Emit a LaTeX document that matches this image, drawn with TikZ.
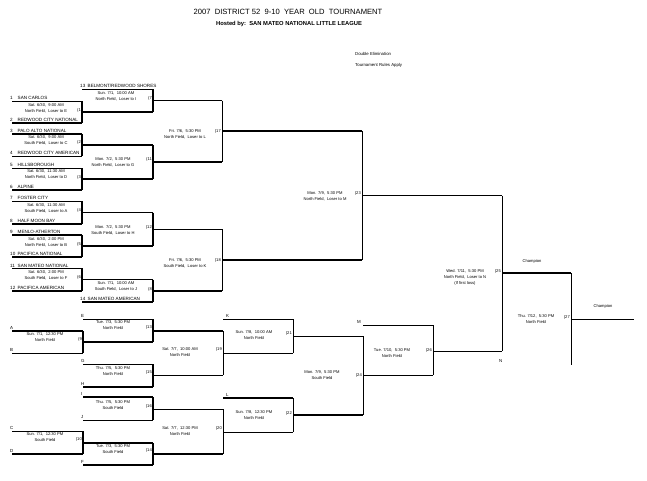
\documentclass[tikz,border=0pt]{standalone}
\usepackage{fontspec}
\setmainfont{Liberation Sans}
\usetikzlibrary{positioning}

\begin{document}
\begin{tikzpicture}[x=1pt, y=-1pt,
    thn/.style={line width=0.7pt},
    thk/.style={line width=1.6pt},
    team/.style={anchor=west, inner sep=0pt, font=\fontsize{4.6}{5}\selectfont},
    slot/.style={anchor=west, inner sep=0pt, font=\fontsize{4.4}{5}\selectfont},
    info/.style={align=center, inner sep=0pt, font=\fontsize{4.1}{6}\selectfont},
    gnum/.style={anchor=east, inner sep=0pt, font=\fontsize{4.1}{5}\selectfont},
    note/.style={anchor=west, inner sep=0pt, font=\fontsize{4.3}{5}\selectfont}
  ]
  \useasboundingbox (0,0) rectangle (647,480);

  \node (title) at (288,12) {\fontsize{7.6}{9}\selectfont 2007\ \ DISTRICT 52\ \ 9-10\ \ YEAR\ \ OLD\ \ TOURNAMENT};
  \node (host) at (289,24) {\fontsize{5.8}{7}\selectfont\bfseries Hosted by:\ \ SAN MATEO NATIONAL LITTLE LEAGUE};
  \node[note] (elim) at (355,54) {Double Elimination};
  \node[note] (rules) at (355,65) {Tournament Rules Apply};

  % winners bracket
  \foreach \a/\b/\y/\w in {12/82/101/thn, 12/82/123/thk, 12/82/134/thk, 12/82/156/thn,
      12/82/168/thn, 12/82/190/thk, 12/82/201/thn, 12/82/224/thk, 12/82/235/thk,
      12/82/257/thk, 12/82/268/thn, 12/82/291/thk,
      82/153/89/thn, 82/153/112/thk, 82/153/145/thk, 82/153/179/thk, 82/153/212.5/thn,
      82/153/246/thk, 82/153/279.5/thn, 82/153/302/thk,
      153/222/100.5/thk, 153/222/162/thk, 153/222/229/thn, 153/222/291/thk,
      222/362/131/thk, 222/362/260/thk, 362/502/195.5/thn, 502/571/273/thk, 571/634/319/thn}
    \draw[\w] (\a,\y) -- (\b,\y);
  \foreach \x/\p/\q/\w in {82/101/123/thk, 82/134/156/thk, 82/168/190/thk, 82/201/224/thk,
      82/235/257/thk, 82/268/291/thk, 153/89/112/thk, 153/145/179/thk, 153/212.5/246/thk,
      153/279.5/302/thk, 222/100.5/162/thn, 222/229/291/thn, 362/131/260/thn,
      502/195.5/351/thn, 571/273/365/thn}
    \draw[\w] (\x,\p) -- (\x,\q);

  % losers bracket
  \foreach \a/\b/\y/\w in {12/83/331/thk, 12/83/353/thn, 83/153/319/thn, 83/153/342/thk,
      83/153/364/thn, 83/153/387/thk, 83/153/397/thk, 83/153/420/thn, 12/83/431/thn,
      12/83/454/thk, 83/153/443/thk, 83/153/465/thk,
      153/223/331/thk, 153/223/375/thn, 153/223/409/thn, 153/223/454/thk,
      223/293/319/thn, 223/293/353/thn, 223/293/398/thk, 223/293/432/thn,
      293/363/336/thn, 293/363/415/thk, 363/433/325/thn, 363/433/375/thn, 433/502/351/thn}
    \draw[\w] (\a,\y) -- (\b,\y);
  \foreach \x/\p/\q/\w in {83/331/353/thk, 83/431/454/thk, 153/319/342/thk, 153/364/387/thk,
      153/397/420/thk, 153/443/465/thk, 223/331/375/thn, 223/409/454/thn,
      293/319/353/thn, 293/398/432/thn, 363/336/415/thn, 433/325/375/thn}
    \draw[\w] (\x,\p) -- (\x,\q);

  \foreach \n/\t/\y in {1/SAN CARLOS/98, 2/REDWOOD CITY NATIONAL/119.5, 3/PALO ALTO NATIONAL/131,
      4/REDWOOD CITY AMERICAN/153, 5/HILLSBOROUGH/165, 6/ALPINE/187, 7/FOSTER CITY/198,
      8/HALF MOON BAY/220.5, 9/MENLO-ATHERTON/232, 10/PACIFICA NATIONAL/254,
      11/SAN MATEO NATIONAL/265.5, 12/PACIFICA AMERICAN/288}
    \node[team] (t\n) at (10,\y) {\makebox[7.5pt][l]{\n}\t};
  \node[team] (t13) at (80,86) {\makebox[7.5pt][l]{13}BELMONT/REDWOOD SHORES};
  \node[team] (t14) at (80,299) {\makebox[7.5pt][l]{14}SAN MATEO AMERICAN};

  \foreach \s/\x/\y in {A/10/328, B/10/349.5, C/10/428, D/10/450.5, E/81/316, F/81/462,
      G/81/361, H/81/383.5, I/81/394, J/81/416.5, K/226/316, L/226/395, M/357/322, N/499/361}
    \node[slot] (s\s) at (\x,\y) {\s};

  \node[info] (g1) at (46,108) {Sat. 6/30,\ \ 9:00 AM\\North Field,\ \ Loser to E};
  \node[info] (g2) at (46,140.5) {Sat. 6/30,\ \ 9:00 AM\\South Field,\ \ Loser to C};
  \node[info] (g3) at (46,174.5) {Sat. 6/30,\ \ 11:30 AM\\North Field,\ \ Loser to D};
  \node[info] (g4) at (46,208) {Sat. 6/30,\ \ 11:30 AM\\South Field,\ \ Loser to A};
  \node[info] (g5) at (46,242) {Sat. 6/30,\ \ 2:00 PM\\North Field,\ \ Loser to B};
  \node[info] (g6) at (46,275) {Sat. 6/30,\ \ 2:00 PM\\South Field,\ \ Loser to F};
  \node[info] (g7) at (116,96) {Sun. 7/1,\ \ 10:00 AM\\North Field,\ \ Loser to I};
  \node[info] (g11) at (113,162) {Mon. 7/2,\ \ 5:30 PM\\North Field,\ \ Loser to G};
  \node[info] (g12) at (113,230) {Mon. 7/2,\ \ 5:30 PM\\South Field,\ \ Loser to H};
  \node[info] (g8) at (116,286) {Sun. 7/1,\ \ 10:00 AM\\South Field,\ \ Loser to J};
  \node[info] (g17) at (185,134) {Fri. 7/6,\ \ 5:30 PM\\North Field,\ \ Loser to L};
  \node[info] (g18) at (185,263) {Fri. 7/6,\ \ 5:30 PM\\South Field,\ \ Loser to K};
  \node[info] (g23) at (325,196) {Mon. 7/9,\ \ 5:30 PM\\North Field,\ \ Loser to M};
  \node[info] (g25) at (465,277) {Wed. 7/11,\ \ 5:30 PM\\North Field,\ \ Loser to N\\(If first loss)};
  \node[info] (g27) at (536,319.5) {Thu. 7/12,\ \ 5:30 PM\\North Field};
  \node[info] (g9) at (45,337.5) {Sun. 7/1,\ \ 12:30 PM\\North Field};
  \node[info] (g10) at (45,437.5) {Sun. 7/1,\ \ 12:30 PM\\South Field};
  \node[info] (g13) at (113,325.5) {Tue. 7/3,\ \ 5:30 PM\\North Field};
  \node[info] (g15) at (113,371) {Thu. 7/5,\ \ 5:30 PM\\North Field};
  \node[info] (g16) at (113,405) {Thu. 7/5,\ \ 5:30 PM\\South Field};
  \node[info] (g14) at (113,449.5) {Tue. 7/3,\ \ 5:30 PM\\South Field};
  \node[info] (g19) at (180,352) {Sat. 7/7,\ \ 10:00 AM\\North Field};
  \node[info] (g20) at (180,431) {Sat. 7/7,\ \ 12:30 PM\\North Field};
  \node[info] (g21) at (254,335.5) {Sun. 7/8,\ \ 10:00 AM\\North Field};
  \node[info] (g22) at (254,415.5) {Sun. 7/8,\ \ 12:30 PM\\North Field};
  \node[info] (g24) at (322,375.5) {Mon. 7/9,\ \ 5:30 PM\\South Field};
  \node[info] (g26) at (392,353) {Tue. 7/10,\ \ 5:30 PM\\North Field};

  \foreach \n/\x/\y in {1/81/110, 2/81/142, 3/81/177, 4/81/210, 5/81/244, 6/81/277,
      7/152/98, 11/152/159, 12/152/227, 8/152/289, 17/221/131, 18/221/260, 23/361/193,
      25/501/271, 27/570/317, 9/82/339, 10/82/439, 13/152/327, 15/152/372, 16/152/406,
      14/152/450, 19/222/349, 20/222/428, 21/292/333, 22/292/413, 24/362/375, 26/432/350}
    \node[gnum] (n\n) at (\x,\y) {(\n};

  \node[info] (champ1) at (532,261) {Champion};
  \node[info] (champ2) at (603,306) {Champion};
\end{tikzpicture}
\end{document}
